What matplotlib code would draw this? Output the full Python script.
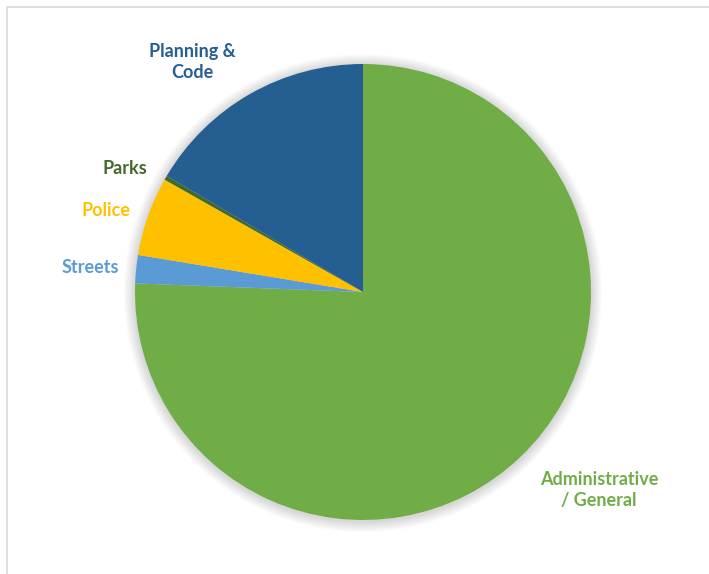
import matplotlib.pyplot as plt
from matplotlib.patches import Circle, Rectangle

# spending share by department (percent)
departments = ['Administrative\n/ General', 'Streets', 'Police', 'Parks', 'Planning &\nCode']
shares = [75.6, 2.0, 5.6, 0.3, 16.5]
colors = ['#70AD47', '#5B9BD5', '#FFC000', '#43682B', '#255E91']

plt.rcParams['font.family'] = ['Lato', 'DejaVu Sans']

fig = plt.figure(figsize=(7.09, 5.74), dpi=100)
fig.patches.append(Rectangle((7 / 709, -0.01), 1.1, 1 - 7 / 574 + 0.01,
                             transform=fig.transFigure, fill=False,
                             edgecolor='#d9d9d9', linewidth=1.2))

W, H = 709, 574
cx, cy, r = 363, 292, 228
ax = fig.add_axes([(cx - r) / W, (H - cy - r) / H, 2 * r / W, 2 * r / H])

wedges, _ = ax.pie(shares, colors=colors, startangle=90, counterclock=False,
                   radius=1, wedgeprops=dict(linewidth=0))
for w in wedges:
    w.set_zorder(2)

# soft halo behind the pie
for i in range(8):
    ax.add_patch(Circle((0, -0.005), 1 + 0.006 * (i + 1), color='black',
                        alpha=0.018, linewidth=0, zorder=0, clip_on=False))

ax.set_xlim(-1, 1)
ax.set_ylim(-1, 1)
ax.axis('off')

# label positions in pixel coords of the figure
label_pos = [(599, 490), (90, 267), (106, 211), (125, 168), (192, 62)]
label_colors = ['#70AD47', '#5B9BD5', '#FFC000', '#43682B', '#255E91']
for name, (px, py), c in zip(departments, label_pos, label_colors):
    fig.text(px / W, 1 - py / H, name, ha='center', va='center', color=c,
             fontsize=13, fontweight='bold', linespacing=1.25)

fig.savefig('out.png', dpi=100)
